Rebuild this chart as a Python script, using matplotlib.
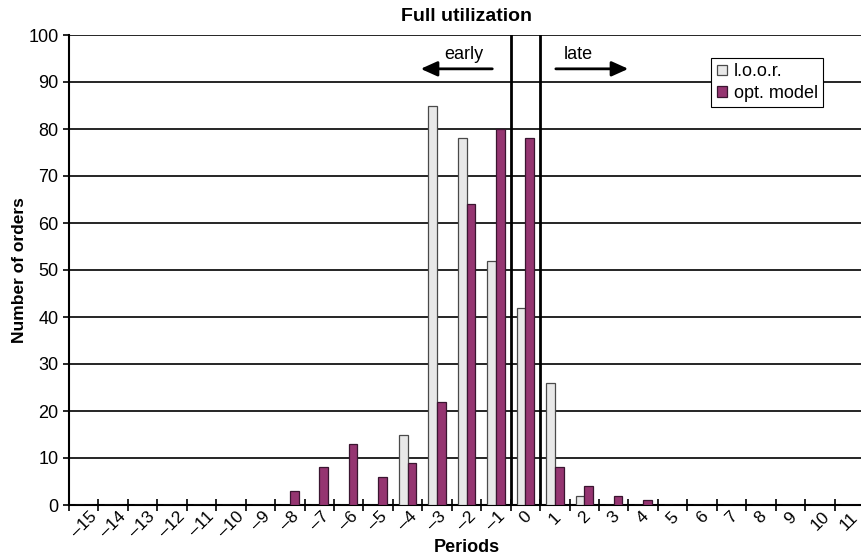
import matplotlib.pyplot as plt
import numpy as np

# ------------------------------
# DATA
# ------------------------------
periods = list(range(-15, 12))
loor = [0, 0, 0, 0, 0, 0, 0, 0, 0, 0, 0, 15, 85, 78, 52, 42, 26, 2, 0, 0, 0, 0, 0, 0, 0, 0, 0]
opt_model = [0, 0, 0, 0, 0, 0, 0, 3, 8, 13, 6, 9, 22, 64, 80, 78, 8, 4, 2, 1, 0, 0, 0, 0, 0, 0, 0]
period_labels = [str(p).replace("-", "\u2013") for p in periods]

plt.rcParams["font.family"] = ["Liberation Sans", "DejaVu Sans"]

fig = plt.figure(figsize=(8.61, 5.59), dpi=100)
ax = fig.add_axes([69 / 861, 54 / 559, 795 / 861, 470 / 559])

x = np.array(periods)
w = 0.295
ax.bar(x - w / 2, loor, width=w, color="#e8e8e8", edgecolor="#4a4a4a",
       linewidth=0.9, label="l.o.o.r.", zorder=3)
ax.bar(x + w / 2, opt_model, width=w, color="#953571", edgecolor="#3a1530",
       linewidth=0.9, label="opt. model", zorder=3)

# ------------------------------
# AXES
# ------------------------------
ax.set_xlim(periods[0] - 0.5, periods[-1] + 0.5)
ax.set_ylim(0, 100)
ax.set_yticks(range(0, 101, 10))
ax.yaxis.grid(True, color="black", linewidth=1.2, zorder=0)
ax.set_axisbelow(True)

ax.set_xticks(x - 0.5)
ax.set_xticklabels([])
ax.set_xticks(x, minor=True)
ax.set_xticklabels(period_labels, minor=True, rotation=45, ha="center", va="top")
ax.tick_params(axis="x", which="major", direction="inout", length=9, width=1.2)
ax.tick_params(axis="x", which="minor", length=0, labelsize=12.5, pad=3)
ax.tick_params(axis="y", direction="out", length=4, width=1.2, labelsize=13)

for s in ["top", "right"]:
    ax.spines[s].set_visible(False)
ax.spines["left"].set_linewidth(1.5)
ax.spines["bottom"].set_linewidth(1.5)

# boundary lines around period 0
ax.axvline(-0.5, color="black", linewidth=2, zorder=4)
ax.axvline(0.5, color="black", linewidth=2, zorder=4)

# early / late arrows
ax.annotate("", xy=(-3.65, 92.8), xytext=(-1.03, 92.8),
            arrowprops=dict(arrowstyle="-|>,head_length=1.0,head_width=0.45",
                            color="black", linewidth=2))
ax.annotate("", xy=(3.59, 92.8), xytext=(0.94, 92.8),
            arrowprops=dict(arrowstyle="-|>,head_length=1.0,head_width=0.45",
                            color="black", linewidth=2))
ax.text(-2.08, 94.0, "early", ha="center", va="bottom", fontsize=13)
ax.text(1.8, 94.0, "late", ha="center", va="bottom", fontsize=13)

ax.set_title("Full utilization", fontsize=14, fontweight="bold", pad=10)
ax.set_xlabel("Periods", fontsize=13, fontweight="bold", labelpad=-1)
ax.set_ylabel("Number of orders", fontsize=12.5, fontweight="bold", labelpad=1)

leg = ax.legend(loc="upper left", bbox_to_anchor=(0.808, 0.951), fontsize=13,
                frameon=True, fancybox=False, edgecolor="black", framealpha=1,
                handlelength=0.55, handleheight=0.55, handletextpad=0.4,
                borderpad=0.3, labelspacing=0.25, borderaxespad=0)
leg.get_frame().set_linewidth(0.8)

fig.savefig("out.png", dpi=100)
